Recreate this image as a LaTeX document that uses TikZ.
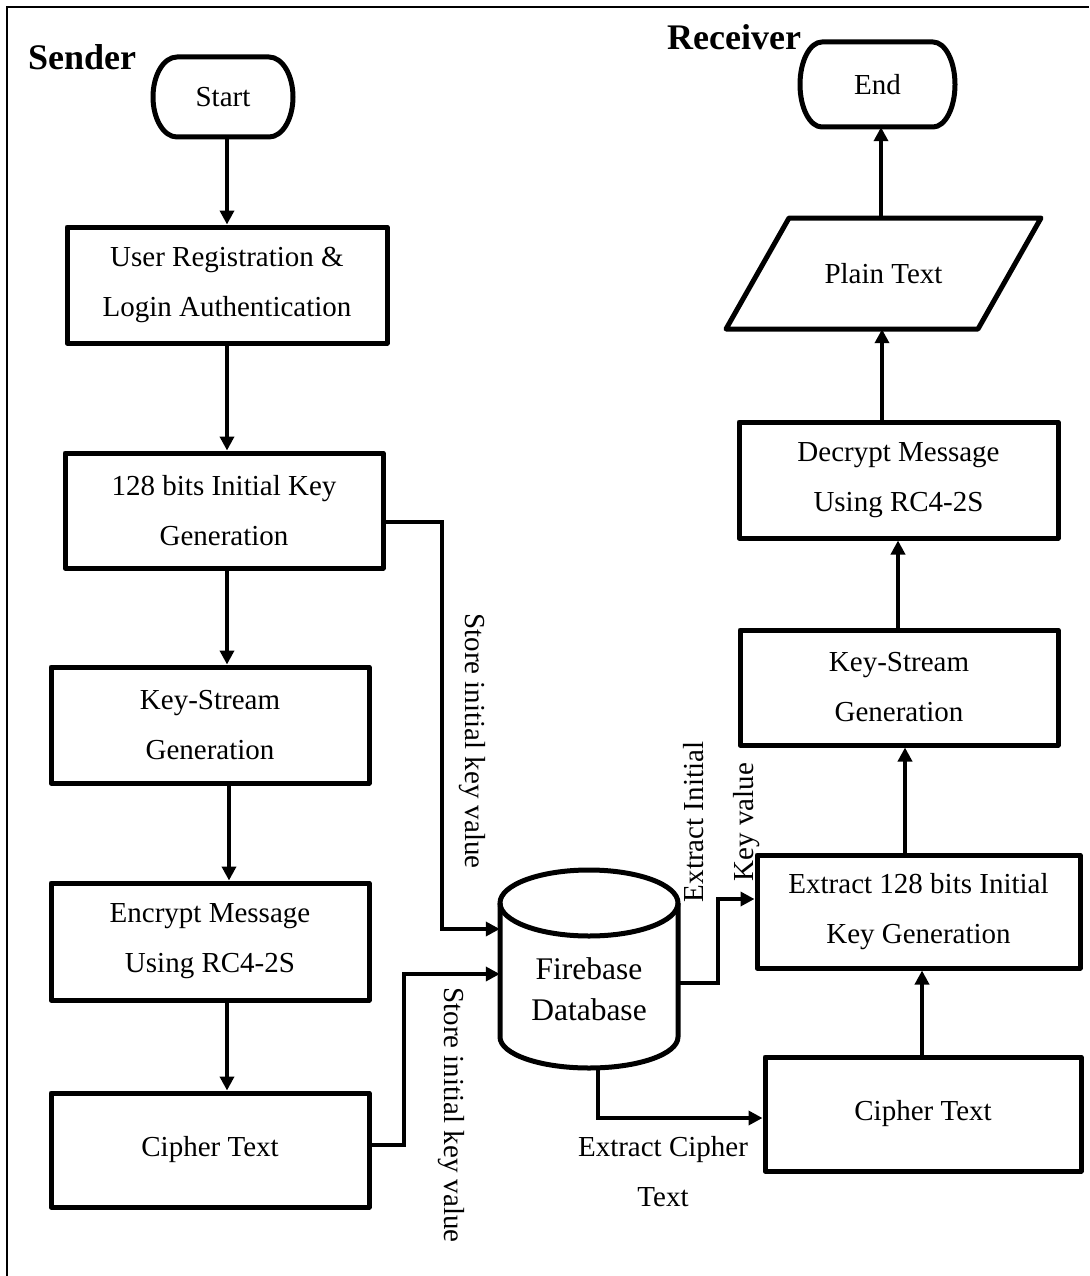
\documentclass[tikz,border=0pt]{standalone}
\usepackage{fontspec}
\setmainfont{Liberation Serif}
\usetikzlibrary{arrows.meta}

\tikzset{
  boxline/.style={line width=5pt, line join=round},
  procbox/.style={draw, boxline, rectangle, inner sep=0pt, align=center,
    font={\fontsize{29}{50}\selectfont}},
  plainlabel/.style={inner sep=0pt, align=center,
    font={\fontsize{29}{50}\selectfont}},
  conn/.style={line width=4pt, -{Triangle[length=14pt,width=14pt]}},
  lane/.style={inner sep=0pt, anchor=base west,
    font={\fontsize{36}{40}\selectfont\bfseries}},
}

\begin{document}
\begin{tikzpicture}[x=1pt,y=-1pt]
\useasboundingbox (0,0) rectangle (1089,1276);

% frame (top and left edges)
\draw[line width=2pt] (7,1276) -- (7,7) -- (1089,7);

% lane titles
\node[lane] (sender) at (28,70) {Sender};
\node[lane] (receiver) at (667,50) {Receiver};

% ---------- sender column ----------
\node[plainlabel, minimum width=140, minimum height=80] (start) at (223,97) {Start};
\draw[boxline] (177,57) -- (269,57)
  arc[start angle=-90, end angle=90, x radius=24, y radius=40]
  -- (177,137)
  arc[start angle=90, end angle=270, x radius=24, y radius=40] -- cycle;

\node[procbox, minimum width=320, minimum height=116] (ur) at (227,285)
  {User Registration \&\\Login Authentication};
\node[procbox, minimum width=318, minimum height=115] (key) at (224,510.5)
  {128 bits Initial Key\\Generation};
\node[procbox, minimum width=318, minimum height=116] (ksl) at (210,725)
  {Key-Stream\\Generation};
\node[procbox, minimum width=318, minimum height=117] (enc) at (210,941.5)
  {Encrypt Message\\Using RC4-2S};
\node[procbox, minimum width=318, minimum height=114] (ctl) at (210,1150)
  {Cipher Text};

\coordinate (lx) at (227,0);
\coordinate (lx2) at (229,0);
\draw[conn] (start.south -| lx) -- (ur.north -| lx);
\draw[conn] (ur.south -| lx) -- (key.north -| lx);
\draw[conn] (key.south -| lx) -- (ksl.north -| lx);
\draw[conn] (ksl.south -| lx2) -- (enc.north -| lx2);
\draw[conn] (enc.south -| lx) -- (ctl.north -| lx);

% ---------- database ----------
\node[minimum width=178, minimum height=198, inner sep=0pt] (db) at (589,969) {};
\draw[boxline] (500,903) -- (500,1037)
  arc[start angle=180, end angle=0, x radius=89, y radius=31]
  -- (678,903);
\draw[boxline] (589,903) ellipse[x radius=89, y radius=33];
\node[inner sep=0pt, align=center, font={\fontsize{31.5}{41}\selectfont}]
  (dbtext) at (589,989) {Firebase\\Database};

% ---------- receiver column ----------
\node[plainlabel, minimum width=155, minimum height=85] (endn) at (877.5,84.5) {End};
\draw[boxline] (822,42) -- (933,42)
  arc[start angle=-90, end angle=90, x radius=22, y radius=42.5]
  -- (822,127)
  arc[start angle=90, end angle=270, x radius=22, y radius=42.5] -- cycle;

\node[plainlabel, minimum width=315, minimum height=111] (plain) at (883.5,273.5)
  {Plain Text};
\draw[boxline] (789,218) -- (1041,218) -- (978,329) -- (726,329) -- cycle;

\node[procbox, minimum width=319, minimum height=116] (dec) at (898.5,480)
  {Decrypt Message\\Using RC4-2S};
\node[procbox, minimum width=318, minimum height=115] (ksr) at (899,687.5)
  {Key-Stream\\Generation};
\node[procbox, minimum width=323, minimum height=113] (ext) at (918.5,911.5)
  {Extract 128 bits Initial\\Key Generation};
\node[procbox, minimum width=316, minimum height=114] (ctr) at (923,1114)
  {Cipher Text};

\draw[conn] (ctr.north -| 922,0) -- (ext.south -| 922,0);
\draw[conn] (ext.north -| 905,0) -- (ksr.south -| 905,0);
\draw[conn] (ksr.north -| 898,0) -- (dec.south -| 898,0);
\draw[conn] (dec.north -| 882,0) -- (plain.south -| 882,0);
\draw[conn] (plain.north -| 881,0) -- (endn.south -| 881,0);

% ---------- cross connectors ----------
\draw[conn] (key.east |- 0,522) -| (442,929) -- (db.west |- 0,929);
\draw[conn] (ctl.east |- 0,1145) -| (404,974) -- (db.west |- 0,974);
\draw[conn] (db.east |- 0,983) -| (718,899) -- (ext.west |- 0,899);
\draw[conn] (db.south -| 598,0) |- (ctr.west |- 0,1118);

% connector labels
\node[plainlabel, rotate=-90] (lstore1) at (472,741) {Store initial key value};
\node[plainlabel, rotate=-90] (lstore2) at (451,1115) {Store initial key value};
\node[plainlabel, rotate=90] (lextkey) at (722,822) {Extract Initial\\Key value};
\node[plainlabel] (lextcip) at (663,1172) {Extract Cipher\\Text};
\end{tikzpicture}
\end{document}
